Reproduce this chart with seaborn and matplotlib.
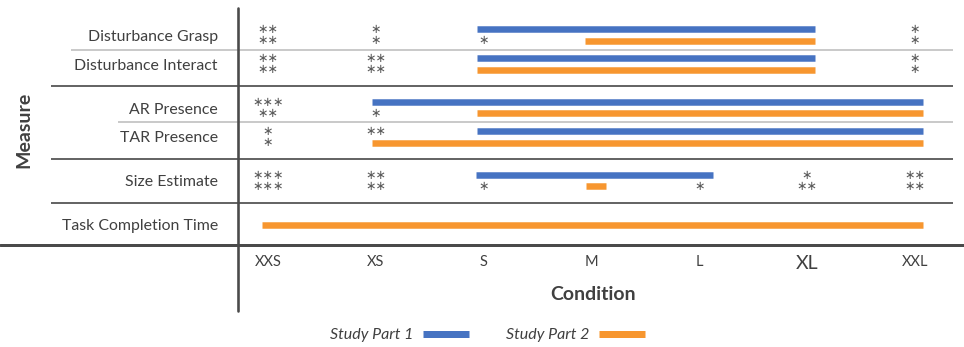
import numpy as np
import pandas as pd
import matplotlib
matplotlib.use("Agg")
import matplotlib.pyplot as plt
import matplotlib.transforms as mtransforms
from matplotlib.lines import Line2D
import seaborn as sns

# ---------------------------------------------------------------- data
conditions = ["XXS", "XS", "S", "M", "L", "XL", "XXL"]
measures = ["Disturbance Grasp", "Disturbance Interact", "AR Presence",
            "TAR Presence", "Size Estimate", "Task Completion Time"]
measure_group = [0, 0, 1, 1, 2, 3]
studies = ["Study Part 1", "Study Part 2"]

# extent of each bar on the condition axis (condition-index units)
part1_start = [1.94, 1.94, 0.96, 1.94, 1.93, np.nan]
part1_end = [5.07, 5.07, 6.07, 6.07, 4.13, np.nan]
part2_start = [2.94, 1.94, 1.94, 0.96, 2.95, -0.06]
part2_end = [5.07, 5.07, 6.07, 6.07, 3.13, 6.07]

# number of significance stars per measure and condition
part1_stars = [
    [2, 1, 0, 0, 0, 0, 1],
    [2, 2, 0, 0, 0, 0, 1],
    [3, 0, 0, 0, 0, 0, 0],
    [1, 2, 0, 0, 0, 0, 0],
    [3, 2, 0, 0, 0, 1, 2],
    [0, 0, 0, 0, 0, 0, 0],
]
part2_stars = [
    [2, 1, 1, 0, 0, 0, 1],
    [2, 2, 0, 0, 0, 0, 1],
    [2, 1, 0, 0, 0, 0, 0],
    [1, 0, 0, 0, 0, 0, 0],
    [3, 2, 1, 0, 1, 2, 2],
    [0, 0, 0, 0, 0, 0, 0],
]

# ---------------------------------------------------------------- style
sns.set_theme(style="white")
plt.rcParams["font.family"] = ["Lato", "DejaVu Sans"]

BLUE = "#4673C2"
ORANGE = "#F7962F"
TEXT = "#404040"
STAR = "#5A5A5A"
palette = {studies[0]: BLUE, studies[1]: ORANGE}

W, H = 964, 347
PX = 72 / 100                       # points per pixel
COL = 107.83                        # pixel pitch of the condition columns
ROW_STEP, GROUP_GAP = 29, 15        # row spacing and extra gap between groups
LINE_OFF = {studies[0]: -5.75, studies[1]: 5.5}
BAR_PX = 6.5

fig = plt.figure(figsize=(W / 100, H / 100), dpi=100)
ax = fig.add_axes([238 / W, 1 - 245 / H, (953 - 238) / W, (245 - 8) / H])

row_y = [r * ROW_STEP + g * GROUP_GAP for r, g in enumerate(measure_group)]

# ---------------------------------------------------------------- bars
records = []
seg = 0
for r in range(len(measures)):
    has_p1 = (not np.isnan(part1_start[r])) or any(part1_stars[r])
    for study, starts, ends in ((studies[0], part1_start, part1_end),
                                (studies[1], part2_start, part2_end)):
        s, e = starts[r], ends[r]
        if np.isnan(s):
            continue
        off = LINE_OFF[study] if has_p1 else 0.0
        y = row_y[r] + off
        records.append((seg, study, s, y))
        records.append((seg, study, e, y))
        seg += 1
seg_df = pd.DataFrame(records, columns=["seg", "study", "x", "y"])

sns.lineplot(data=seg_df, x="x", y="y", hue="study", hue_order=studies,
             units="seg", estimator=None, sort=False, palette=palette,
             linewidth=BAR_PX * PX, solid_capstyle="butt", legend=False, ax=ax)

# ---------------------------------------------------------------- stars
for r in range(len(measures)):
    for study, stars in ((studies[0], part1_stars[r]), (studies[1], part2_stars[r])):
        for c, n in enumerate(stars):
            if n:
                ax.text(c, row_y[r] + LINE_OFF[study], "\u2217" * n,
                        ha="center", va="center", fontsize=9,
                        family="DejaVu Sans", color=STAR)

# ---------------------------------------------------------------- axes
ax.set_xlim((238 - 268) / COL, (953 - 268) / COL)
ax.set_ylim(210, -27)
ax.set_xlabel("")
ax.set_ylabel("")
sns.despine(ax=ax, left=True, bottom=True)
ax.set_xticks(range(len(conditions)), conditions)
ax.set_yticks(row_y, measures)
ax.tick_params(axis="x", length=0, pad=7, labelsize=10.5, labelcolor=TEXT)
ax.tick_params(axis="y", length=0, pad=14.4, labelsize=11.4, labelcolor=TEXT)
ax.get_xticklabels()[conditions.index("XL")].set_fontsize(14)

# table rules between rows
trans = mtransforms.blended_transform_factory(fig.transFigure, ax.transData)
rule_start = [71, 51, 118, 51, 51]
for i in range(len(measures) - 1):
    ymid = (row_y[i] + row_y[i + 1]) / 2
    same = measure_group[i] == measure_group[i + 1]
    ax.plot([rule_start[i] / W, 953 / W], [ymid, ymid], transform=trans,
            color="#BDBDBD" if same else "#555555",
            lw=(1.6 if same else 1.8) * PX, clip_on=False, solid_capstyle="butt")

fig.add_artist(Line2D([0, 1], [1 - 245 / H] * 2, transform=fig.transFigure,
                      color="#4A4A4A", lw=3 * PX))
fig.add_artist(Line2D([238 / W] * 2, [1 - 8 / H, 1 - 311 / H],
                      transform=fig.transFigure, color="#4A4A4A", lw=2.6 * PX))

fig.text(593 / W, 1 - 294 / H, "Condition", ha="center", va="center",
         fontsize=14, fontweight="bold", color=TEXT)
fig.text(24 / W, 1 - 130 / H, "Measure", ha="center", va="center",
         rotation=90, fontsize=14, fontweight="bold", color=TEXT)

handles = [Line2D([], [], color=palette[s], lw=7 * PX, solid_capstyle="butt")
           for s in studies]
fig.legend(handles, studies, ncol=2, markerfirst=False, frameon=False,
           loc="center", bbox_to_anchor=(487.5 / W, 1 - 335 / H),
           prop=dict(family="Lato", style="italic", size=11.5),
           labelcolor=TEXT, handlelength=2.9, handletextpad=0.6,
           columnspacing=2.3)

fig.savefig("out.png", dpi=100, facecolor="white")
